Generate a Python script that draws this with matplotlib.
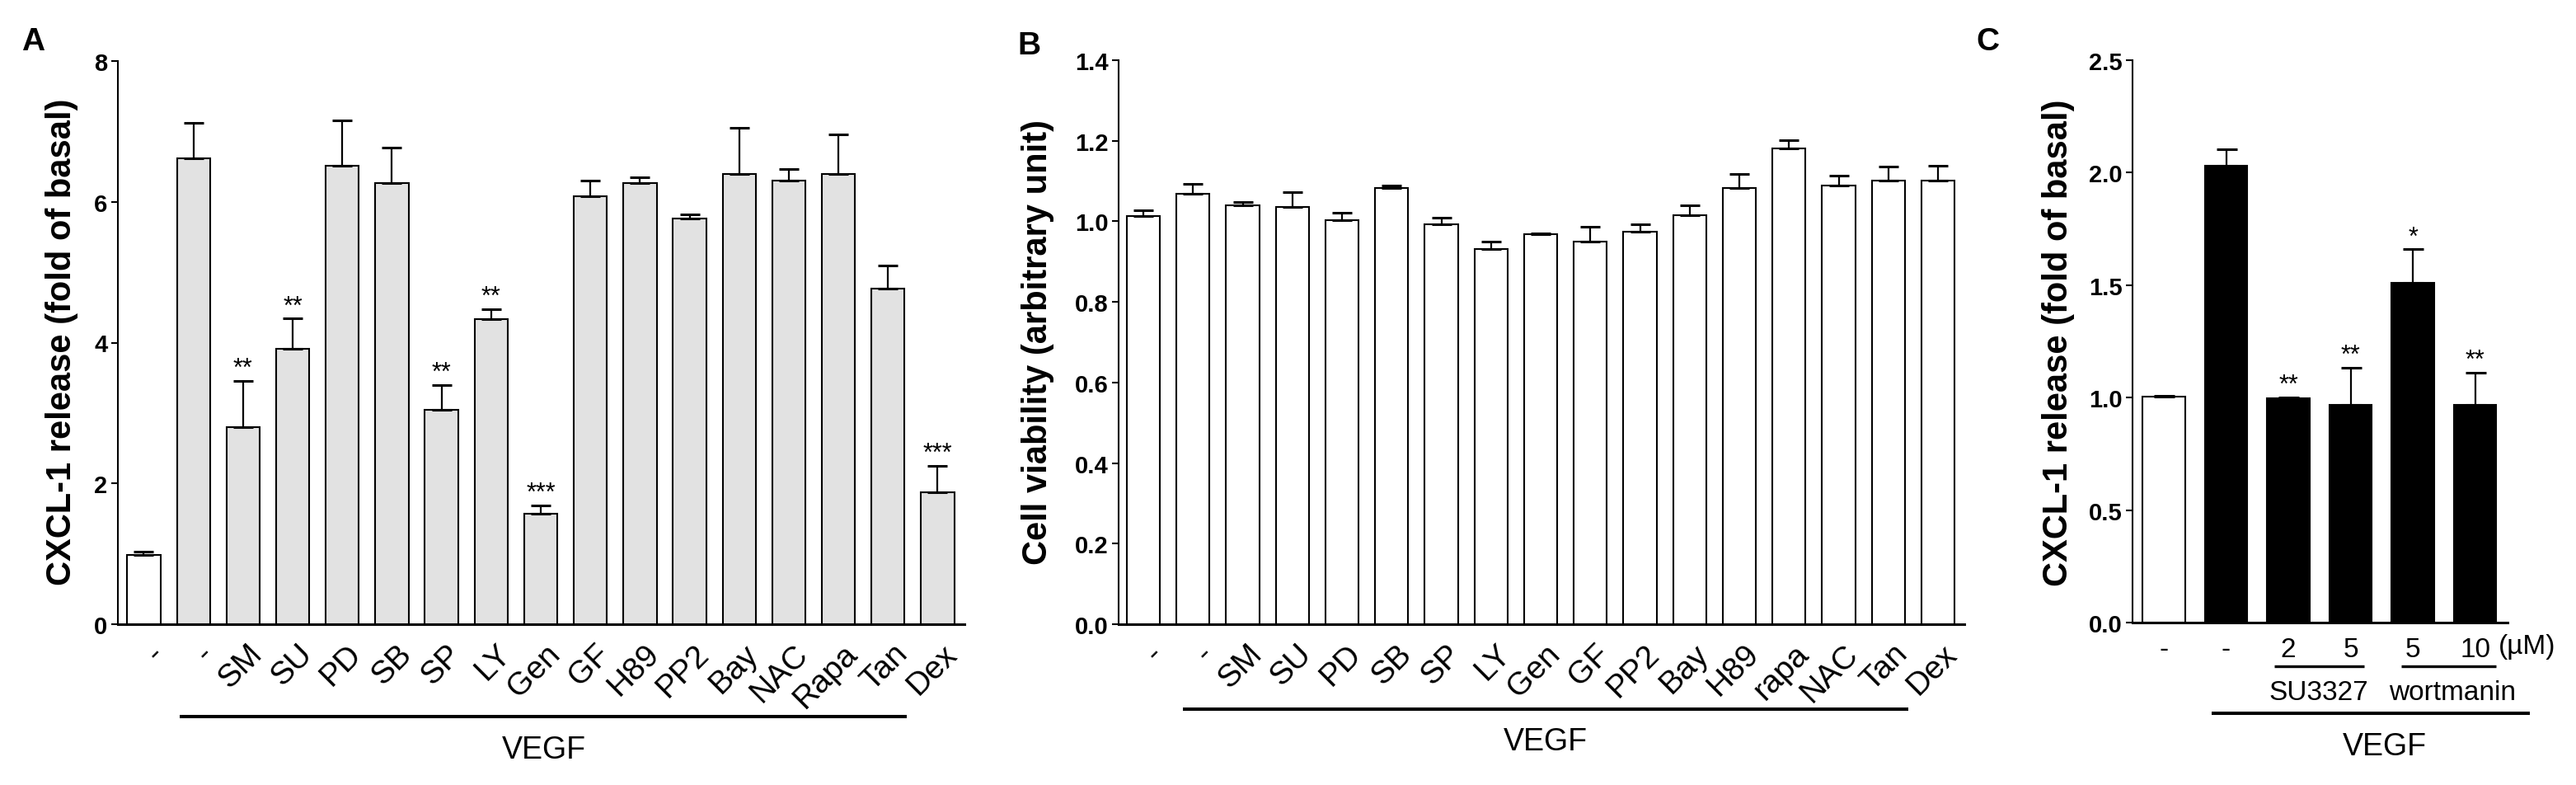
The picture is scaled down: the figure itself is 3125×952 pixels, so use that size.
import matplotlib
matplotlib.use("Agg")
import matplotlib.pyplot as plt
import matplotlib.transforms as mtransforms
import numpy as np

plt.rcParams["font.family"] = ["Liberation Sans", "DejaVu Sans"]

# panel A: CXCL-1 release
a_labels = ["-", "-", "SM", "SU", "PD", "SB", "SP", "LY", "Gen", "GF", "H89",
            "PP2", "Bay", "NAC", "Rapa", "Tan", "Dex"]
a_means = [0.98, 6.62, 2.80, 3.91, 6.51, 6.27, 3.05, 4.33, 1.57, 6.08, 6.27,
           5.76, 6.40, 6.30, 6.40, 4.77, 1.87]
a_errs = [0.05, 0.50, 0.66, 0.43, 0.65, 0.50, 0.35, 0.15, 0.12, 0.22, 0.08,
          0.06, 0.65, 0.16, 0.56, 0.32, 0.38]
a_sig = ["", "", "**", "**", "", "", "**", "**", "***", "", "", "", "", "", "",
         "", "***"]

# panel B: cell viability
b_labels = ["-", "-", "SM", "SU", "PD", "SB", "SP", "LY", "Gen", "GF", "PP2",
            "Bay", "H89", "rapa", "NAC", "Tan", "Dex"]
b_means = [1.013, 1.069, 1.040, 1.036, 1.003, 1.082, 0.992, 0.932, 0.969,
           0.949, 0.974, 1.016, 1.082, 1.180, 1.088, 1.101, 1.101]
b_errs = [0.014, 0.024, 0.008, 0.036, 0.018, 0.006, 0.017, 0.018, 0.001,
          0.037, 0.019, 0.023, 0.035, 0.021, 0.026, 0.034, 0.038]

# panel C: SU3327 / wortmanin
c_labels = ["-", "-", "2", "5", "5", "10"]
c_means = [1.003, 2.030, 0.997, 0.967, 1.509, 0.969]
c_errs = [0.005, 0.073, 0.003, 0.167, 0.150, 0.141]
c_sig = ["", "", "**", "**", "*", "**"]

W, H = 3125, 953
fig = plt.figure(figsize=(W / 100, H / 100), dpi=100)


def rect(x0, x1, y0, y1):
    # pixel box (from top-left) -> figure fraction
    return [x0 / W, 1 - y1 / H, (x1 - x0) / W, (y1 - y0) / H]


def style_axes(ax):
    ax.spines["top"].set_visible(False)
    ax.spines["right"].set_visible(False)
    ax.spines["left"].set_linewidth(1.5)
    ax.spines["bottom"].set_linewidth(2.2)
    ax.tick_params(axis="y", direction="out", length=6, width=1.5, pad=3,
                   labelsize=21)
    ax.tick_params(axis="x", length=0)
    for t in ax.get_yticklabels():
        t.set_fontweight("bold")


def draw_bars(ax, means, errs, colors, width, capsize):
    x = np.arange(len(means))
    ax.bar(x, means, width=width, color=colors, edgecolor="black",
           linewidth=1.5, zorder=2)
    ax.errorbar(x, means, yerr=[np.zeros(len(errs)), errs], fmt="none",
                ecolor="black", elinewidth=1.6, capsize=capsize, capthick=2.2,
                zorder=3)
    return x


def stars(ax, x, means, errs, sig):
    for xi, m, e, s in zip(x, means, errs, sig):
        if s:
            ax.annotate(s, (xi, m + e), xytext=(0, 5), textcoords="offset points",
                        ha="center", va="baseline", fontsize=22)


def rotated_labels(ax, labels, dx, dy):
    ax.set_xticklabels(labels, rotation=45, ha="right", va="center",
                       rotation_mode="anchor", fontsize=28)
    off = mtransforms.ScaledTranslation(dx / 100, -dy / 100, fig.dpi_scale_trans)
    for t in ax.get_xticklabels():
        t.set_transform(t.get_transform() + off)


def bracket(ax, x0, x1, y, lw):
    tr = ax.get_xaxis_transform()
    ax.plot([x0, x1], [y, y], color="black", lw=lw, transform=tr,
            clip_on=False, solid_capstyle="butt")


# ---- panel A
axA = fig.add_axes(rect(143, 1170, 75, 758))
colA = ["white"] + ["#e2e2e2"] * (len(a_means) - 1)
xA = draw_bars(axA, a_means, a_errs, colA, 0.67, 8.5)
stars(axA, xA, a_means, a_errs, a_sig)
axA.set_xlim(-0.523, 16.54)
axA.set_ylim(0, 8)
axA.set_yticks([0, 2, 4, 6, 8])
axA.set_xticks(xA)
style_axes(axA)
rotated_labels(axA, a_labels, 18, 25)
bracket(axA, 0.72, 15.37, -0.164, 2.9)
axA.text(8.06, -0.2225, "VEGF", transform=axA.get_xaxis_transform(),
         ha="center", va="center", fontsize=27)

# ---- panel B
axB = fig.add_axes(rect(1357, 2383, 74, 758))
xB = draw_bars(axB, b_means, b_errs, ["white"] * len(b_means), 0.67, 8.5)
axB.set_xlim(-0.498, 16.53)
axB.set_ylim(0, 1.4)
axB.set_yticks(np.arange(0, 1.41, 0.2))
axB.set_yticklabels([f"{v:.1f}" for v in np.arange(0, 1.41, 0.2)])
axB.set_xticks(xB)
style_axes(axB)
rotated_labels(axB, b_labels, 18, 25)
bracket(axB, 0.80, 15.40, -0.150, 2.9)
axB.text(8.1, -0.2076, "VEGF", transform=axB.get_xaxis_transform(),
         ha="center", va="center", fontsize=27)

# ---- panel C
axC = fig.add_axes(rect(2587, 3042, 74, 756))
colC = ["white"] + ["black"] * (len(c_means) - 1)
xC = draw_bars(axC, c_means, c_errs, colC, 0.68, 9)
stars(axC, xC, c_means, c_errs, c_sig)
axC.set_xlim(-0.503, 5.52)
axC.set_ylim(0, 2.5)
axC.set_yticks([0, 0.5, 1.0, 1.5, 2.0, 2.5])
axC.set_yticklabels(["0.0", "0.5", "1.0", "1.5", "2.0", "2.5"])
axC.set_xticks(xC)
axC.set_xticklabels(c_labels, fontsize=24)
style_axes(axC)
axC.tick_params(axis="x", pad=12)
trC = axC.get_xaxis_transform()
axC.text(5.83, -0.0425, "(\u00b5M)", transform=trC, ha="center", va="center",
         fontsize=24)
bracket(axC, 1.77, 3.22, -0.0777, 2.4)
bracket(axC, 3.81, 5.34, -0.0777, 2.4)
axC.text(2.49, -0.1232, "SU3327", transform=trC, ha="center", va="center",
         fontsize=24)
axC.text(4.64, -0.1232, "wortmanin", transform=trC, ha="center", va="center",
         fontsize=24)
bracket(axC, 0.77, 5.88, -0.161, 2.9)
axC.text(3.54, -0.2195, "VEGF", transform=trC, ha="center", va="center",
         fontsize=27)

# axis titles and panel letters
fig.text(75 / W, 1 - 415 / H, "CXCL-1 release (fold of basal)", rotation=90,
         ha="center", va="center", fontsize=30, fontweight="bold")
fig.text(1259 / W, 1 - 415 / H, "Cell viability (arbitrary unit)", rotation=90,
         ha="center", va="center", fontsize=30, fontweight="bold")
fig.text(2497 / W, 1 - 416 / H, "CXCL-1 release (fold of basal)", rotation=90,
         ha="center", va="center", fontsize=30, fontweight="bold")
for lab, px, py in [("A", 26, 33), ("B", 1234, 38), ("C", 2397, 33)]:
    fig.text(px / W, 1 - py / H, lab, ha="left", va="top", fontsize=28,
             fontweight="bold")

fig.savefig("out.png", dpi=100, facecolor="white")
